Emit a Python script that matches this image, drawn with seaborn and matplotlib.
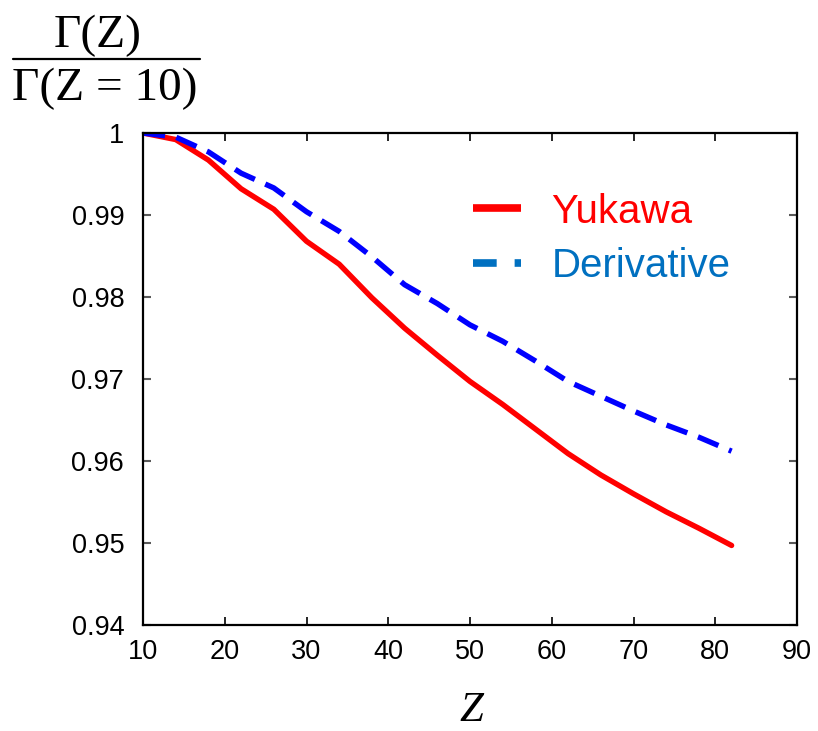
import matplotlib
matplotlib.use("Agg")
import matplotlib.pyplot as plt
import seaborn as sns
from matplotlib.lines import Line2D

# ---- data ----
z = [10, 14, 18, 22, 26, 30, 34, 38, 42, 46, 50, 54, 58, 62, 66, 70, 74, 78, 82]
yukawa = [1.0, 0.9992, 0.9967, 0.9932, 0.9907, 0.9868, 0.9840, 0.9799, 0.9762,
          0.9729, 0.9697, 0.9669, 0.9639, 0.9609, 0.9583, 0.9560, 0.9538, 0.9518, 0.9497]
derivative = [1.0, 0.9995, 0.9977, 0.9951, 0.9933, 0.9904, 0.9880, 0.9849, 0.9815,
              0.9792, 0.9766, 0.9746, 0.9722, 0.9697, 0.9679, 0.9661, 0.9644, 0.9629, 0.9612]
series_labels = ["Yukawa", "Derivative"]
xticks = [10, 20, 30, 40, 50, 60, 70, 80, 90]
yticks = [0.94, 0.95, 0.96, 0.97, 0.98, 0.99, 1.0]
ytick_labels = ["0.94", "0.95", "0.96", "0.97", "0.98", "0.99", "1"]

sns.set_theme(style="white")
plt.rcParams["font.family"] = ["Liberation Sans", "DejaVu Sans"]

fig = plt.figure(figsize=(8.18, 7.31), dpi=100)
ax = fig.add_axes([143 / 818, 1 - 625 / 731, (797 - 143) / 818, (625 - 133) / 731])

lw = 3.9
sns.lineplot(x=z, y=yukawa, color="#FF0000", lw=lw, ax=ax)
sns.lineplot(x=z, y=derivative, color="#0000FF", lw=lw,
             linestyle=(0, (4.1, 2.1)), ax=ax)

ax.set_xlim(10, 90)
ax.set_ylim(0.94, 1.0)
ax.set_xticks(xticks)
ax.set_xticklabels([str(t) for t in xticks])
ax.set_yticks(yticks)
ax.set_yticklabels(ytick_labels)
ax.tick_params(axis="both", direction="in", labelsize=19.5, colors="#000000")
ax.tick_params(axis="x", top=True, bottom=True, length=6, width=1.2,
               color="#000000", pad=10)
ax.tick_params(axis="y", left=True, right=True, length=6, width=1.5,
               color="#595959", pad=13.5)
for s in ax.spines.values():
    s.set_color("#000000")
    s.set_linewidth(1.6)
ax.set_xlabel("")
ax.set_ylabel("")

# legend
hlw = 5.5
handles = [
    Line2D([], [], color="#FF0000", lw=hlw, solid_capstyle="butt"),
    Line2D([], [], color="#0070C0", lw=hlw, linestyle=(0, (3.1, 2.35)),
           dash_capstyle="butt"),
]
leg = ax.legend(handles, series_labels, loc="upper left",
                bbox_to_anchor=(0.504, 0.879), frameon=False, fontsize=29,
                handlelength=1.19, handletextpad=0.77, labelspacing=0.4,
                borderaxespad=0, borderpad=0)
for txt, c in zip(leg.get_texts(), ["#FF0000", "#0070C0"]):
    txt.set_color(c)

# axis labels
fig.text(471 / 818, 1 - 721 / 731, "Z", fontsize=31, family="Liberation Serif",
         style="italic", ha="center", va="baseline", color="black")
fig.text(98 / 818, 1 - 47 / 731, "Γ(Z)", fontsize=34, family="Liberation Serif",
         ha="center", va="baseline", color="black")
fig.text(105 / 818, 1 - 100 / 731, "Γ(Z = 10)", fontsize=34, family="Liberation Serif",
         ha="center", va="baseline", color="black")
fig.add_artist(Line2D([13 / 818, 200 / 818], [1 - 59 / 731, 1 - 59 / 731],
                      transform=fig.transFigure, color="black", lw=1.6))

fig.savefig("out.png", dpi=100)
